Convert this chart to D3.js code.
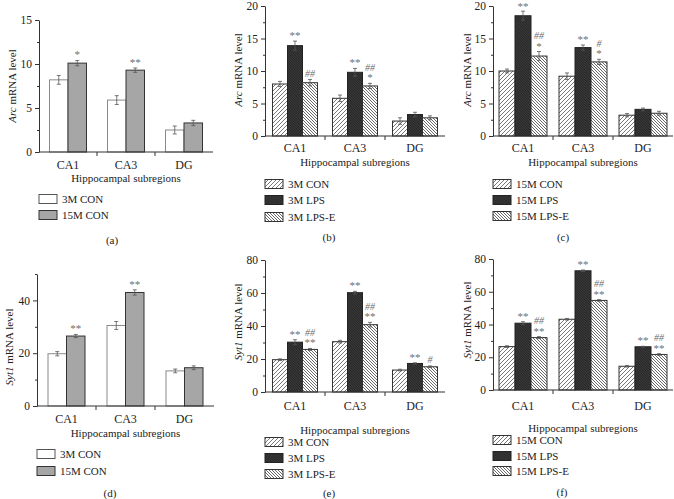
<!DOCTYPE html>
<html><head><meta charset="utf-8">
<script src="https://cdn.jsdelivr.net/npm/d3@7"></script>
<style>body{margin:0;background:#fff}svg{display:block}text{font-family:"Liberation Serif","Times New Roman",serif;fill:#222}</style>
</head><body><svg id="chart" width="674" height="499"></svg>
<script>
const categories = ["CA1", "CA3", "DG"];
// (a) Arc, 3M vs 15M CON
const arcA_3M = [8.2, 5.9, 2.5], arcA_3M_err = [0.5, 0.5, 0.45];
const arcA_15M = [10.1, 9.3, 3.3], arcA_15M_err = [0.3, 0.25, 0.3];
const arcA_15M_sig = [["*"], ["**"], []];
// (b) Arc, 3M
const arcB_con = [8.0, 5.8, 2.3], arcB_con_err = [0.4, 0.5, 0.5];
const arcB_lps = [13.9, 9.8, 3.3], arcB_lps_err = [0.7, 0.6, 0.35];
const arcB_lpse = [8.2, 7.7, 2.8], arcB_lpse_err = [0.5, 0.4, 0.3];
const arcB_lps_sig = [["**"], ["**"], []];
const arcB_lpse_sig = [["##"], ["##", "*"], []];
// (c) Arc, 15M
const arcC_con = [10.0, 9.2, 3.2], arcC_con_err = [0.3, 0.5, 0.25];
const arcC_lps = [18.5, 13.6, 4.1], arcC_lps_err = [0.7, 0.4, 0.2];
const arcC_lpse = [12.3, 11.4, 3.5], arcC_lpse_err = [0.7, 0.4, 0.3];
const arcC_lps_sig = [["**"], ["**"], []];
const arcC_lpse_sig = [["##", "*"], ["#", "*"], []];
// (d) Syt1, 3M vs 15M CON
const sytD_3M = [19.8, 30.5, 13.3], sytD_3M_err = [0.8, 1.5, 0.7];
const sytD_15M = [26.5, 43.0, 14.5], sytD_15M_err = [0.6, 1.0, 0.7];
const sytD_15M_sig = [["**"], ["**"], []];
// (e) Syt1, 3M
const sytE_con = [19.6, 30.5, 13.3], sytE_con_err = [0.5, 0.8, 0.5];
const sytE_lps = [30.2, 60.2, 17.3], sytE_lps_err = [1.5, 0.8, 0.4];
const sytE_lpse = [25.8, 40.8, 15.3], sytE_lpse_err = [0.6, 1.4, 0.5];
const sytE_lps_sig = [["**"], ["**"], ["**"]];
const sytE_lpse_sig = [["##", "**"], ["##", "**"], ["#"]];
// (f) Syt1, 15M
const sytF_con = [26.5, 43.2, 14.5], sytF_con_err = [0.5, 0.5, 0.5];
const sytF_lps = [40.8, 72.8, 26.4], sytF_lps_err = [0.9, 0.5, 0.3];
const sytF_lpse = [32.0, 54.7, 21.7], sytF_lpse_err = [0.6, 0.5, 0.5];
const sytF_lps_sig = [["**"], ["**"], ["**"]];
const sytF_lpse_sig = [["##", "**"], ["##", "**"], ["##", "**"]];

const svg = d3.select("#chart");
const defs = svg.append("defs");
function hatch(id, bg, col, sw, size, dir) {
  const p = defs.append("pattern").attr("id", id).attr("patternUnits", "userSpaceOnUse")
    .attr("width", size).attr("height", size);
  p.append("rect").attr("width", size).attr("height", size).attr("fill", bg);
  const s = size;
  const d = dir === "f"
    ? `M-1,1 l2,-2 M0,${s} l${s},-${s} M${s-1},${s+1} l2,-2`
    : `M-1,${s-1} l2,2 M0,0 l${s},${s} M${s-1},-1 l2,2`;
  p.append("path").attr("d", d).attr("stroke", col).attr("stroke-width", sw);
}
hatch("pCon", "#fff", "#6a6a6a", 0.9, 4, "f");
hatch("pLps", "#4a4a4a", "#1a1a1a", 1, 2.5, "b");
hatch("pLpse", "#fff", "#6a6a6a", 1, 3, "b");

const styles = {
  white: {fill: "#fff", stroke: "#8a8a8a"},
  gray: {fill: "#a6a6a6", stroke: "#333"},
  con: {fill: "url(#pCon)", stroke: "#333"},
  lps: {fill: "url(#pLps)", stroke: "#222"},
  lpse: {fill: "url(#pLpse)", stroke: "#333"}
};

const panels = [
  {lab: "(a)", gene: "Arc", x0: 39, x1: 213, yTop: 20, yBot: 152, yMax: 15, major: [0,5,10,15], minor: [2.5,7.5,12.5], bw: 18.5,
   series: [{name: "3M CON", v: arcA_3M, e: arcA_3M_err, s: null, st: "white"}, {name: "15M CON", v: arcA_15M, e: arcA_15M_err, s: arcA_15M_sig, st: "gray"}],
   ylab: [12, 86], tickY: 165, titleY: 178, leg: [39, [199, 215]], pl: [112, 240]},
  {lab: "(b)", gene: "Arc", x0: 265, x1: 445, yTop: 6, yBot: 136, yMax: 20, major: [0,5,10,15,20], minor: [2.5,7.5,12.5,17.5], bw: 15,
   series: [{name: "3M CON", v: arcB_con, e: arcB_con_err, s: null, st: "con"}, {name: "3M LPS", v: arcB_lps, e: arcB_lps_err, s: arcB_lps_sig, st: "lps"}, {name: "3M LPS-E", v: arcB_lpse, e: arcB_lpse_err, s: arcB_lpse_sig, st: "lpse"}],
   ylab: [238, 70], tickY: 148, titleY: 162, leg: [265, [184, 200, 217]], pl: [329, 237]},
  {lab: "(c)", gene: "Arc", x0: 493, x1: 673, yTop: 6, yBot: 136, yMax: 20, major: [0,5,10,15,20], minor: [2.5,7.5,12.5,17.5], bw: 16,
   series: [{name: "15M CON", v: arcC_con, e: arcC_con_err, s: null, st: "con"}, {name: "15M LPS", v: arcC_lps, e: arcC_lps_err, s: arcC_lps_sig, st: "lps"}, {name: "15M LPS-E", v: arcC_lpse, e: arcC_lpse_err, s: arcC_lpse_sig, st: "lpse"}],
   ylab: [467, 70], tickY: 148, titleY: 162, leg: [493, [184, 200, 216]], pl: [563, 237]},
  {lab: "(d)", gene: "Syt1", x0: 37, x1: 214, yTop: 274, yBot: 406, yMax: 50, major: [0,20,40], minor: [10,30,50], bw: 18.5,
   series: [{name: "3M CON", v: sytD_3M, e: sytD_3M_err, s: null, st: "white"}, {name: "15M CON", v: sytD_15M, e: sytD_15M_err, s: sytD_15M_sig, st: "gray"}],
   ylab: [9, 347], tickY: 419, titleY: 433, leg: [37, [454, 471]], pl: [110, 493]},
  {lab: "(e)", gene: "Syt1", x0: 265, x1: 445, yTop: 260, yBot: 392, yMax: 80, major: [0,20,40,60,80], minor: [10,30,50,70], bw: 15,
   series: [{name: "3M CON", v: sytE_con, e: sytE_con_err, s: null, st: "con"}, {name: "3M LPS", v: sytE_lps, e: sytE_lps_err, s: sytE_lps_sig, st: "lps"}, {name: "3M LPS-E", v: sytE_lpse, e: sytE_lpse_err, s: sytE_lpse_sig, st: "lpse"}],
   ylab: [238, 322], tickY: 406, titleY: 430, leg: [265, [442, 458, 474]], pl: [329, 493]},
  {lab: "(f)", gene: "Syt1", x0: 493, x1: 673, yTop: 259, yBot: 390, yMax: 80, major: [0,20,40,60,80], minor: [10,30,50,70], bw: 16,
   series: [{name: "15M CON", v: sytF_con, e: sytF_con_err, s: null, st: "con"}, {name: "15M LPS", v: sytF_lps, e: sytF_lps_err, s: sytF_lps_sig, st: "lps"}, {name: "15M LPS-E", v: sytF_lpse, e: sytF_lpse_err, s: sytF_lpse_sig, st: "lpse"}],
   ylab: [467, 320], tickY: 406, titleY: 428, leg: [493, [440, 456, 471]], pl: [562, 492]}
];

panels.forEach(P => {
  const g = svg.append("g");
  const x = d3.scaleBand().domain(categories).range([P.x0, P.x1]).padding(0);
  const gw = x.bandwidth();
  const n = P.series.length;
  const xs = d3.scaleBand().domain(P.series.map(s => s.name))
    .range([gw / 2 - n * P.bw / 2, gw / 2 + n * P.bw / 2]).padding(0);
  const y = d3.scaleLinear().domain([0, P.yMax]).range([P.yBot, P.yTop]);

  P.series.forEach(S => {
    const st = styles[S.st];
    g.selectAll(null).data(categories).join("rect")
      .attr("x", (c) => x(c) + xs(S.name))
      .attr("width", xs.bandwidth())
      .attr("y", (c, i) => y(S.v[i]))
      .attr("height", (c, i) => y(0) - y(S.v[i]))
      .attr("fill", st.fill).attr("stroke", st.stroke).attr("stroke-width", 1);
    categories.forEach((c, i) => {
      const cx = x(c) + xs(S.name) + xs.bandwidth() / 2;
      const eg = g.append("g").attr("stroke", "#555").attr("stroke-width", 0.8);
      eg.append("line").attr("x1", cx).attr("x2", cx).attr("y1", y(S.v[i] - S.e[i])).attr("y2", y(S.v[i] + S.e[i]));
      [S.v[i] - S.e[i], S.v[i] + S.e[i]].forEach(val => {
        eg.append("line").attr("x1", cx - 2).attr("x2", cx + 2).attr("y1", y(val)).attr("y2", y(val));
      });
      if (S.s && S.s[i].length) {
        const lines = S.s[i];
        const base = Math.max(y(S.v[i] + S.e[i]) - 6, 6 + (lines.length - 1) * 10);
        lines.slice().reverse().forEach((t, k) => {
          g.append("text").attr("x", cx).attr("y", base - k * 10)
            .attr("text-anchor", "middle").attr("dominant-baseline", "central")
            .attr("font-size", t.includes("#") ? 10 : 11).style("fill", "#6e6e6e").style("font-style", t.includes("#") ? "italic" : "normal")
            .text(t);
        });
      }
    });
  });

  const ya = g.append("g").attr("transform", `translate(${P.x0},0)`)
    .call(d3.axisLeft(y).tickValues(P.major).tickSize(4).tickSizeOuter(0).tickPadding(3));
  ya.select(".domain").attr("stroke", "#333");
  ya.selectAll(".tick line").attr("stroke", "#333");
  ya.selectAll("text").attr("font-size", 11.5).attr("font-family", "Liberation Serif").style("fill", "#222");
  const ym = g.append("g").attr("transform", `translate(${P.x0},0)`)
    .call(d3.axisLeft(y).tickValues(P.minor).tickSize(2).tickSizeOuter(0).tickFormat(""));
  ym.select(".domain").remove();
  ym.selectAll(".tick line").attr("stroke", "#333");

  g.append("line").attr("x1", P.x0).attr("x2", P.x1).attr("y1", P.yBot).attr("y2", P.yBot).attr("stroke", "#333");
  categories.slice(1).forEach(c => {
    g.append("line").attr("x1", x(c)).attr("x2", x(c)).attr("y1", P.yBot).attr("y2", P.yBot + 4).attr("stroke", "#333");
  });
  categories.forEach(c => {
    g.append("text").attr("x", x(c) + gw / 2).attr("y", P.tickY).attr("text-anchor", "middle")
      .attr("dominant-baseline", "central").attr("font-size", 12).text(c);
  });
  g.append("text").attr("x", (P.x0 + P.x1) / 2).attr("y", P.titleY).attr("text-anchor", "middle")
    .attr("dominant-baseline", "central").attr("font-size", 11).text("Hippocampal subregions");

  const yl = g.append("text").attr("transform", `translate(${P.ylab[0]},${P.ylab[1]}) rotate(-90)`)
    .attr("text-anchor", "middle").attr("dominant-baseline", "central").attr("font-size", 11);
  yl.append("tspan").style("font-style", "italic").text(P.gene);
  yl.append("tspan").text(" mRNA level");

  P.series.forEach((S, k) => {
    const ly = P.leg[1][k];
    const st = styles[S.st];
    g.append("rect").attr("x", P.leg[0]).attr("y", ly - 4.5).attr("width", 18).attr("height", 9)
      .attr("fill", st.fill).attr("stroke", st.stroke === "#8a8a8a" ? "#555" : st.stroke).attr("stroke-width", 1);
    g.append("text").attr("x", P.leg[0] + 23).attr("y", ly).attr("dominant-baseline", "central")
      .attr("font-size", 11).text(S.name);
  });

  g.append("text").attr("x", P.pl[0]).attr("y", P.pl[1]).attr("text-anchor", "middle")
    .attr("dominant-baseline", "central").attr("font-size", 11).text(P.lab);
});
</script></body></html>
